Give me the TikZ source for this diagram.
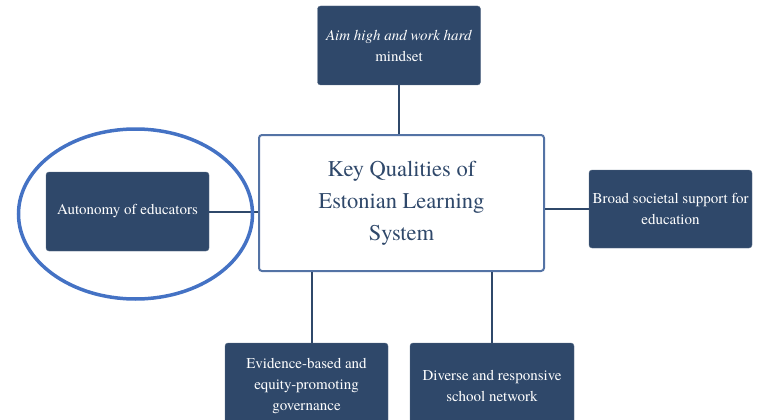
\documentclass[tikz,border=0pt]{standalone}
\usepackage{fontspec}
\newfontfamily\timesfont{texgyretermes}[Extension=.otf, UprightFont=*-regular, ItalicFont=*-italic, BoldFont=*-bold]
\usetikzlibrary{positioning,shapes.geometric}
\definecolor{navy}{RGB}{47,72,106}
\definecolor{frameblue}{RGB}{84,115,165}
\definecolor{ringblue}{RGB}{68,114,196}

\begin{document}
\begin{tikzpicture}[x=1pt,y=-1pt,
		quality/.style={fill=navy, draw=navy!80!white, rounded corners=3pt, text=white,
			align=center, minimum width=163pt, font=\timesfont\fontsize{15}{21}\selectfont, inner sep=2pt},
		core/.style={draw=frameblue, line width=2pt, rounded corners=3pt, text=navy,
			align=center, minimum width=285pt, minimum height=136pt,
			font=\timesfont\fontsize{22.5}{32}\selectfont},
		link/.style={draw=navy, line width=2pt}]
	\useasboundingbox (0,0) rectangle (761,420);
	\clip (0,0) rectangle (761,420);

	\node[core] (key) at (401.5,203) {Key Qualities of\\Estonian Learning\\System};

	\node[quality, minimum height=79pt] (aim) at (399,45.5) {\textit{Aim high and work hard}\\mindset};
	\node[quality, minimum height=79pt] (auto) at (127.5,211.5) {Autonomy of educators};
	\node[quality, minimum height=78pt] (broad) at (670.5,209) {Broad societal support for\\education};
	\node[quality, minimum height=86pt] (evid) at (306.5,386) {Evidence-based and\\equity-promoting\\governance};
	\node[quality, minimum height=86pt, minimum width=164pt] (div) at (492,386) {Diverse and responsive\\school network};

	\draw[link] (aim.south) -- (aim.south |- key.north);
	\draw[link] (auto.east) -- (auto.east -| key.west);
	\draw[link] (broad.west) -- (broad.west -| key.east);
	\draw[link] ([xshift=5pt]evid.north) -- ([xshift=5pt]evid.north |- key.south);
	\draw[link] (div.north) -- (div.north |- key.south);

	% highlight round the left quality
	\node[draw=ringblue, line width=3.5pt, ellipse, minimum width=234pt, minimum height=170pt] (ring) at (135.5,214) {};
\end{tikzpicture}
\end{document}
